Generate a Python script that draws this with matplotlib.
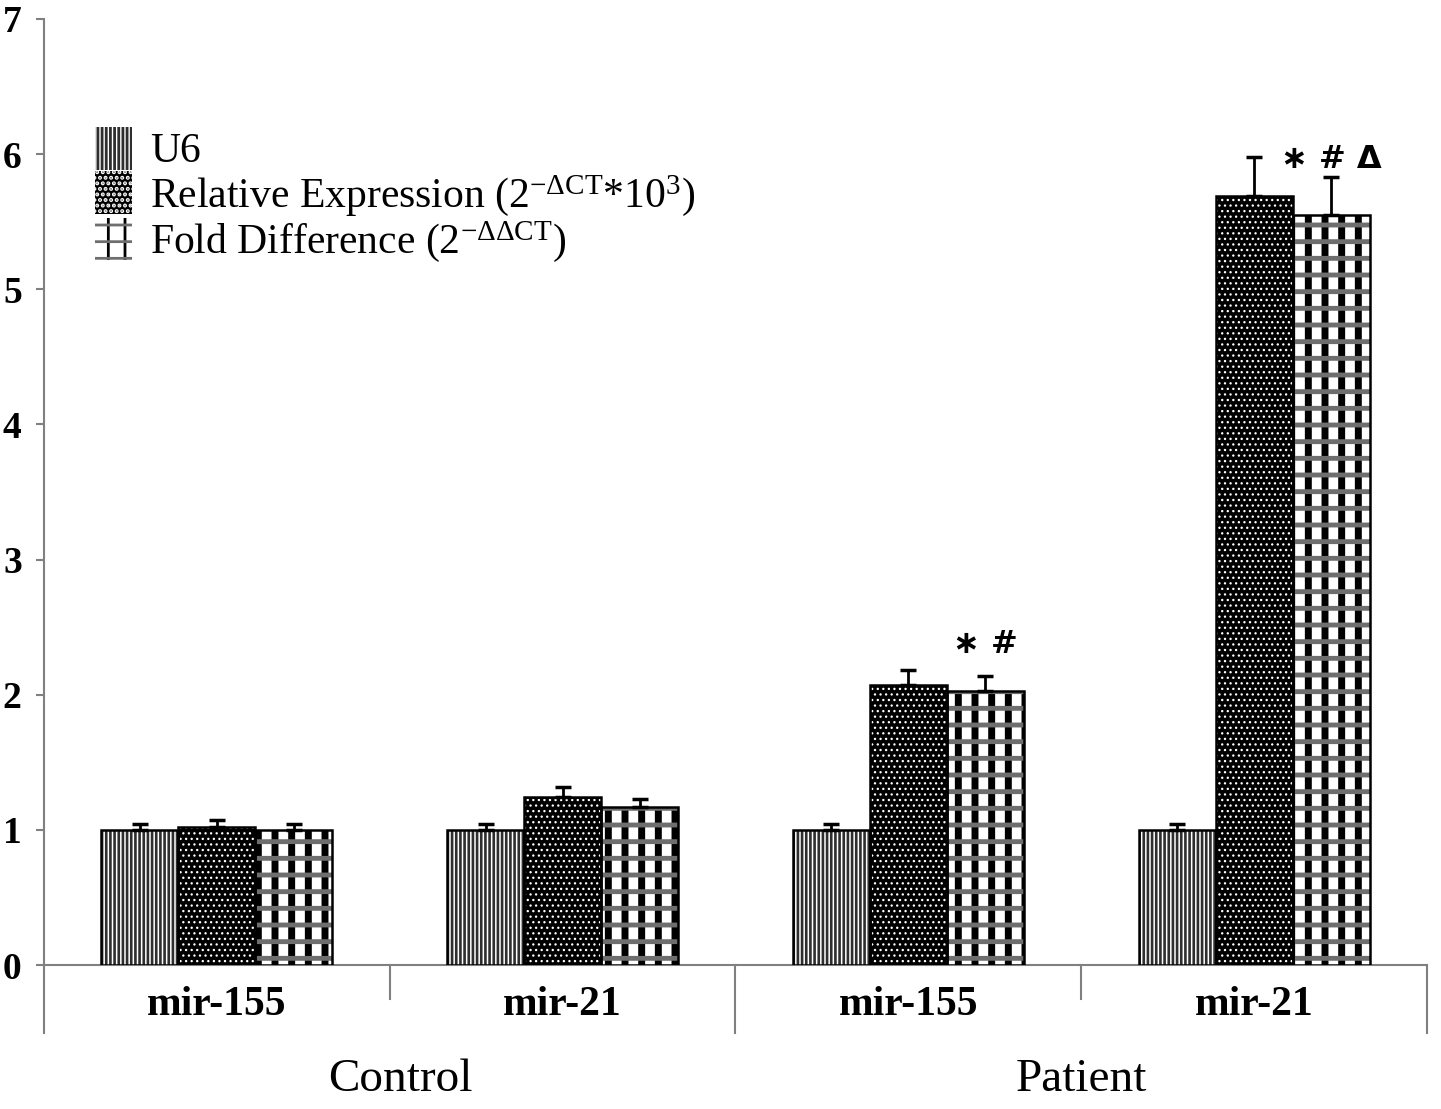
import matplotlib
matplotlib.use("Agg")
import matplotlib.pyplot as plt
import matplotlib.transforms as mtransforms
from matplotlib.patches import Patch
from matplotlib.legend_handler import HandlerTuple
import numpy as np

plt.rcParams["font.family"] = ["Liberation Serif", "DejaVu Serif"]
plt.rcParams["mathtext.fontset"] = "custom"
plt.rcParams["mathtext.rm"] = "Liberation Serif"
plt.rcParams["mathtext.it"] = "Liberation Serif:italic"
plt.rcParams["mathtext.bf"] = "Liberation Serif:bold"
plt.rcParams["hatch.linewidth"] = 2.0

# ---- data ----
genes = ["mir-155", "mir-21", "mir-155", "mir-21"]
groups = ["Control", "Patient"]
u6 = [1.0, 1.0, 1.0, 1.0]
u6_err = [0.04, 0.04, 0.04, 0.04]
rel_expr = [1.02, 1.24, 2.07, 5.69]
rel_err = [0.05, 0.08, 0.11, 0.29]
fold_diff = [1.0, 1.17, 2.03, 5.55]
fold_err = [0.04, 0.06, 0.11, 0.28]
marks = {2: "\u2217 #", 3: "\u2217 # \u0394"}
mark_y = {2: 2.37, 3: 5.96}
legend_labels = ["U6",
                 "Relative Expression (2$^{\\mathregular{-\u0394CT}}$*10$^{\\mathregular{3}}$)",
                 "Fold Difference (2$^{\\mathregular{-\u0394\u0394CT}}$)"]

GRAY = "#808080"
fig = plt.figure(figsize=(14.41, 11.09), dpi=100)
ax = fig.add_axes([0.0305, 0.1298, 0.9598, 0.8531])

x = np.arange(len(genes)) + 0.5
w = 0.2225

# layers: (facecolor, hatch, hatchcolor, hatch linewidth)
u6_layers = [("white", None, "white", 1), ("none", "||||", "#2e2e2e", 1.9)]
rel_layers = [("black", "...", "white", 0.9)]
fold_layers = [("white", None, "white", 1), ("none", "|", "black", 5.0),
               ("none", "-", "#6e6e6e", 3.5)]


def hatched_bar(xpos, vals, layers):
    for fc, hatch, hc, hlw in layers:
        with plt.rc_context({"hatch.linewidth": hlw}):
            ax.bar(xpos, vals, w, color=fc, hatch=hatch,
                   edgecolor=hc, linewidth=0, zorder=2)
    ax.bar(xpos, vals, w, fill=False, edgecolor="black", linewidth=1.8, zorder=3)


hatched_bar(x - w, u6, u6_layers)
hatched_bar(x, rel_expr, rel_layers)
hatched_bar(x + w, fold_diff, fold_layers)

for xpos, vals, err in [(x - w, u6, u6_err), (x, rel_expr, rel_err), (x + w, fold_diff, fold_err)]:
    ax.errorbar(xpos, vals, yerr=[np.zeros(len(vals)), err], fmt="none",
                ecolor="black", elinewidth=2, capsize=6, capthick=2.5, zorder=4)

for i, txt in marks.items():
    ax.text(x[i] + w, mark_y[i], txt, ha="center", va="center", fontsize=23,
            fontweight="bold", family=["DejaVu Sans"])

ax.set_xlim(0, 4)
ax.set_ylim(0, 7)
ax.set_yticks(range(8))
ax.tick_params(axis="y", direction="out", length=6, width=1.5, color=GRAY,
               labelsize=27, pad=10)
for lab in ax.get_yticklabels():
    lab.set_fontweight("bold")
ax.set_xticks([])
for s in ["top", "right"]:
    ax.spines[s].set_visible(False)
for s in ["left", "bottom"]:
    ax.spines[s].set_color(GRAY)
    ax.spines[s].set_linewidth(1.5)
    ax.spines[s].set_zorder(1)

# two-level category axis
trans = mtransforms.blended_transform_factory(ax.transData, ax.transAxes)
for xs in [1, 3]:
    ax.plot([xs, xs], [0, -0.036], color=GRAY, lw=1.5, transform=trans, clip_on=False)
for xs in [0, 2, 4]:
    ax.plot([xs, xs], [0, -0.072], color=GRAY, lw=1.5, transform=trans, clip_on=False)
for xi, g in zip(x, genes):
    ax.text(xi, -0.042, g, transform=trans, ha="center", va="center",
            fontsize=30, fontweight="bold")
for xi, g in zip([1.03, 3.0], groups):
    ax.text(xi, -0.121, g, transform=trans, ha="center", va="center", fontsize=34)

# legend
def handle(layers):
    out = []
    for fc, h, hc, hlw in layers:
        with plt.rc_context({"hatch.linewidth": hlw}):
            out.append(Patch(facecolor=fc, hatch=h, edgecolor=hc, linewidth=0))
    return tuple(out)


ax.legend([handle(u6_layers), handle(rel_layers), handle(fold_layers)], legend_labels,
          handler_map={tuple: HandlerTuple(ndivide=1, pad=0)},
          loc="upper left", bbox_to_anchor=(0.037, 0.886), frameon=False,
          fontsize=30, borderpad=0, borderaxespad=0, labelspacing=0,
          handleheight=1.2, handlelength=0.89, handletextpad=0.43)

fig.savefig("out.png", dpi=100)
